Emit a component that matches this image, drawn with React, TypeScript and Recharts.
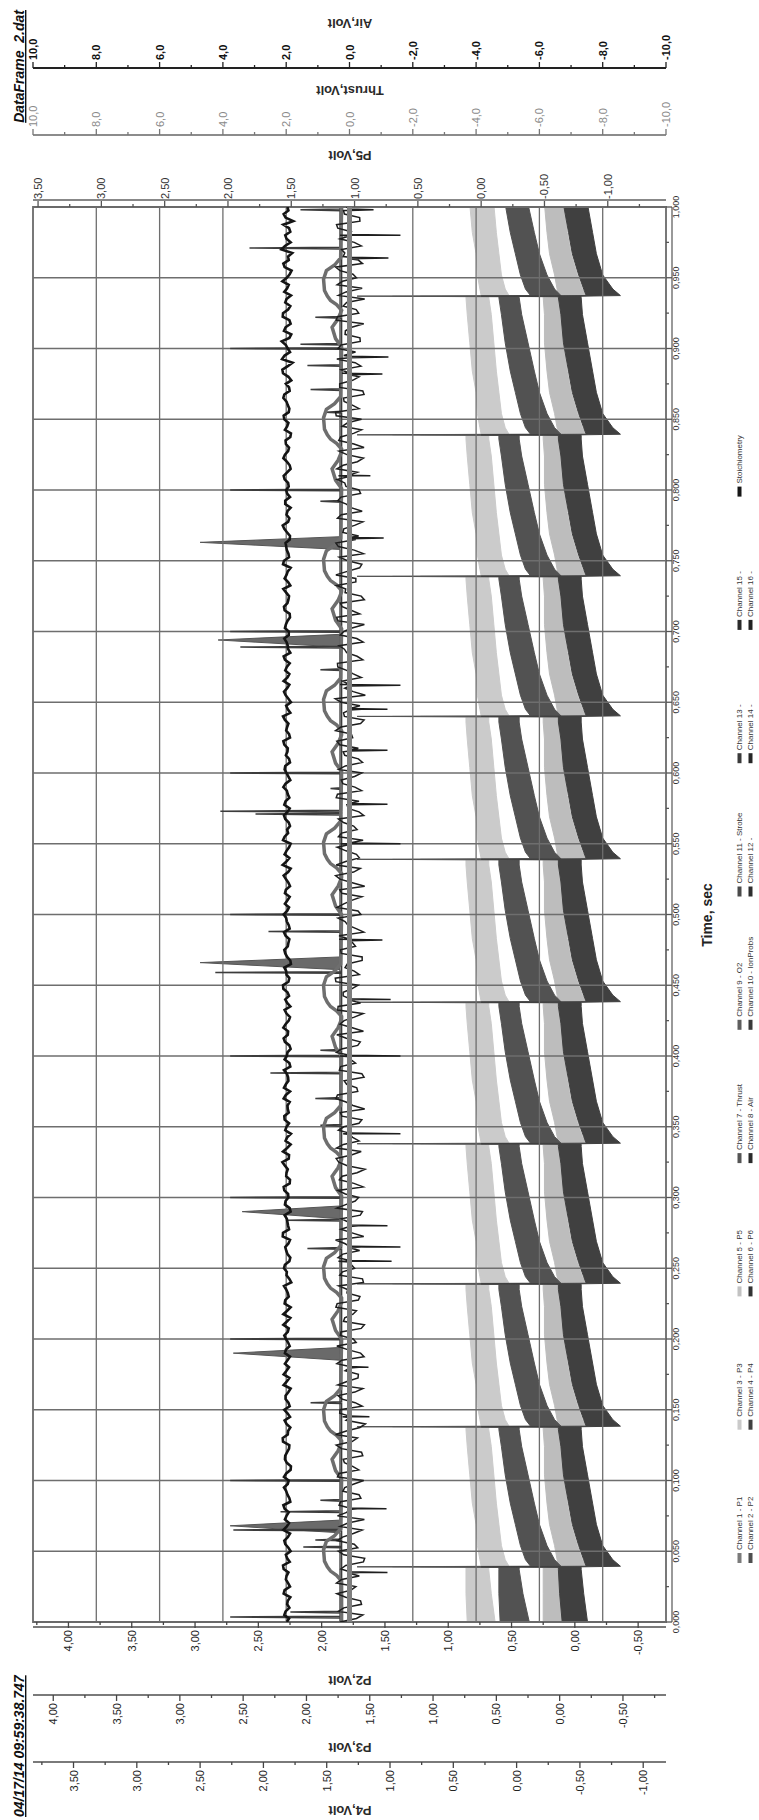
import React from 'react';
import { ComposedChart, Line, Area, XAxis, YAxis, ReferenceLine, ReferenceArea } from 'recharts';

const FONT = '"Liberation Sans", Arial, Helvetica, sans-serif';

// pulse instants (sec) where the pressure bands jump
const PULSES = [0.039, 0.138, 0.239, 0.338, 0.438, 0.539, 0.64, 0.739, 0.839, 0.937];
// sample offsets after each pulse used for the band profiles
const BAND_OFFSETS = [0.0004, 0.005, 0.015, 0.03, 0.045, 0.065, 0.085, 0.097];
const BAND_START_T = [0, 0.02, 0.037];

// Channel 3 - P3 (light band, P3 axis) [low, high]
const P3_START = [[0.51, 0.73], [0.54, 0.74], [0.56, 0.74]];
const P3_PERIOD = [[0.4, 0.62], [0.43, 0.63], [0.46, 0.65], [0.48, 0.66], [0.5, 0.69], [0.52, 0.71], [0.54, 0.73], [0.56, 0.74]];
const P3_SPIKE = 1.32;

// Channel 2 - P2 (dark band, P2 axis)
const P2_START = [[0.36, 0.59], [0.41, 0.6], [0.44, 0.6]];
const P2_PERIOD = [[0.11, 0.35], [0.16, 0.39], [0.22, 0.43], [0.28, 0.47], [0.32, 0.51], [0.37, 0.55], [0.42, 0.58], [0.44, 0.6]];
const P2_SPIKE = 1.72;

// Channel 5 - P5 (light band, P5 axis)
const P5_START = [[-0.64, -0.49], [-0.63, -0.49], [-0.63, -0.49]];
const P5_PERIOD = [[-0.84, -0.61], [-0.8, -0.6], [-0.76, -0.58], [-0.71, -0.54], [-0.68, -0.52], [-0.65, -0.5], [-0.64, -0.5], [-0.63, -0.49]];
const P5_SPIKE = 0.48;

// Channel 4 - P4 (dark band, P4 axis)
const P4_START = [[-0.56, -0.36], [-0.53, -0.34], [-0.51, -0.33]];
const P4_PERIOD = [[-0.82, -0.55], [-0.76, -0.53], [-0.68, -0.49], [-0.63, -0.44], [-0.6, -0.41], [-0.56, -0.37], [-0.52, -0.35], [-0.51, -0.33]];
const P4_SPIKE = 0.28;

// Stoichiometry (Air axis units): samples at k*0.005 and at k*0.005 + 0.0025
const STOICH_A = [
  1.98, 2.06, 1.9, 1.95, 2.08, 1.88, 2.01, 1.93, 2.1, 1.97, 1.86, 2.03, 1.95, 2.09, 1.91, 1.99, 2.05, 1.87, 1.96, 2.07,
  1.92, 2.0, 1.85, 2.04, 1.97, 1.9, 2.11, 1.94, 1.99, 1.88, 2.06, 1.93, 2.02, 1.86, 1.98, 2.08, 1.91, 1.96, 2.04, 1.89,
  2.01, 1.95, 2.09, 1.87, 1.97, 2.05, 1.92, 2.0, 1.84, 1.99, 2.07, 1.9, 1.96, 2.03, 1.88, 2.1, 1.94, 1.98, 1.86, 2.04,
  1.93, 2.06, 1.89, 2.0, 1.95, 2.12, 1.91, 1.97, 2.02, 1.85, 1.99, 2.05, 1.92, 1.96, 2.08, 1.88, 2.01, 1.94, 2.07, 1.9,
  1.98, 1.86, 2.04, 1.95, 2.09, 1.92, 1.99, 1.87, 2.03, 1.96, 2.1, 1.9, 2.0, 1.85, 1.97, 2.06, 1.93, 2.02, 1.89, 1.98,
  2.08, 1.91, 1.96, 2.04, 1.88, 2.01, 1.94, 2.11, 1.9, 1.99, 1.86, 2.05, 1.97, 1.92, 2.07, 1.89, 2.02, 1.95, 2.09, 1.87,
  1.99, 2.03, 1.91, 1.96, 2.06, 1.88, 2.0, 1.93, 2.1, 1.95, 1.85, 2.02, 1.97, 2.08, 1.9, 1.98, 2.04, 1.87, 1.95, 2.06,
  1.92, 2.01, 1.88, 2.05, 1.96, 1.91, 2.09, 1.94, 1.99, 1.86, 2.07, 1.93, 2.0, 1.89, 1.97, 2.11, 1.9, 1.96, 2.03, 1.88,
  2.0, 1.94, 2.08, 1.86, 1.98, 2.04, 1.91, 2.02, 1.85, 1.97, 2.06, 1.92, 1.95, 2.09, 1.89, 2.01, 1.93, 2.12, 1.8, 2.05,
  1.95, 2.14, 1.84, 2.02, 1.9, 2.1, 1.87, 1.99, 2.06, 1.92, 1.98, 1.83, 2.09, 1.94, 2.15, 1.86, 2.03, 1.91, 1.78, 2.08,
  1.96,
];
const STOICH_B = [
  1.91, 2.02, 1.97, 1.87, 2.05, 1.94, 1.99, 2.08, 1.89, 2.01, 1.93, 2.06, 1.88, 1.98, 2.04, 1.92, 2.09, 1.9, 2.0, 1.95,
  2.07, 1.86, 1.98, 2.03, 1.91, 2.1, 1.95, 1.87, 2.05, 1.96, 1.89, 2.02, 1.93, 2.08, 1.9, 1.99, 2.04, 1.88, 2.01, 1.94,
  2.06, 1.92, 1.97, 2.09, 1.86, 2.03, 1.95, 2.07, 1.9, 1.98, 2.04, 1.87, 2.0, 1.93, 2.11, 1.91, 1.96, 2.05, 1.89, 2.02,
  1.94, 2.08, 1.88, 1.99, 2.04, 1.92, 2.1, 1.86, 1.97, 2.03, 1.91, 2.06, 1.95, 1.89, 2.01, 2.07, 1.93, 1.98, 1.87, 2.05,
  1.96, 1.9, 2.08, 1.94, 2.02, 1.88, 2.05, 1.97, 1.91, 2.09, 1.93, 1.99, 2.06, 1.87, 2.03, 1.95, 1.9, 2.07, 1.92, 2.0,
  1.97, 2.04, 1.89, 2.01, 1.93, 2.08, 1.86, 1.99, 2.05, 1.91, 2.1, 1.94, 1.88, 2.03, 1.96, 2.06, 1.9, 1.98, 2.02, 1.93,
  2.05, 1.88, 2.01, 1.95, 2.09, 1.91, 1.97, 2.04, 1.87, 2.0, 1.93, 2.07, 1.9, 1.96, 2.03, 1.89, 2.08, 1.94, 1.99, 1.92,
  2.04, 1.96, 1.89, 2.07, 1.93, 2.0, 1.87, 2.05, 1.95, 2.1, 1.91, 1.98, 2.02, 1.88, 2.06, 1.94, 1.99, 1.86, 2.03, 1.97,
  1.92, 2.05, 1.97, 1.89, 2.09, 1.94, 2.01, 1.87, 2.04, 1.93, 2.08, 1.9, 1.99, 2.06, 1.91, 1.84, 2.1, 1.95, 2.13, 1.88,
  2.01, 1.9, 2.07, 1.86, 2.11, 1.94, 2.03, 1.85, 1.97, 2.12, 1.89, 2.05, 1.92, 1.81, 2.04, 1.99, 1.87, 2.09, 2.02, 1.93,
];

// Channel 8 - Air noise (same two sample grids) and its sharp spikes
const AIR_A = [
  0.3, -0.42, 0.18, -0.35, 0.4, -0.2, 0.25, -0.32, 0.12, -0.48, 0.35, -0.15, 0.22, -0.4, 0.05, 0.38, -0.25, 0.28, -0.3, 0.15,
  -0.45, 0.33, -0.1, 0.2, -0.38, 0.42, -0.25, 0.1, -0.5, 0.22, 0.3, -0.18, 0.36, -0.42, 0.08, -0.28, -0.3, 0.24, -0.35, 0.4,
  -0.12, 0.27, -0.47, 0.15, -0.22, 0.39, -0.33, 0.06, -0.44, 0.31, -0.16, 0.35, 0.21, -0.37, 0.44, -0.08, -0.28, 0.26, -0.41, 0.12,
  -0.29, 0.37, -0.14, 0.23, -0.49, 0.34, -0.06, 0.41, -0.3, 0.2, 0.18, -0.39, 0.29, -0.11, 0.43, -0.26, 0.09, -0.46, 0.32, -0.19,
  0.3, 0.25, -0.34, 0.4, -0.09, 0.17, -0.43, 0.36, -0.33, 0.2, -0.27, 0.45, -0.15, 0.07, -0.4, 0.28, -0.1, 0.33, -0.21, 0.14,
  -0.36, 0.39, -0.07, 0.24, -0.48, 0.3, -0.13, 0.42, -0.31, 0.11, 0.28, 0.35, -0.24, 0.19, -0.45, 0.04, -0.3, 0.38, -0.17, 0.26,
  -0.39, 0.13, -0.28, 0.2, 0.31, -0.1, 0.44, -0.35, 0.16, -0.38, 0.27, -0.5, 0.15, 0.22, -0.12, 0.37, -0.42, 0.09, 0.33, -0.23,
  0.18, -0.47, 0.41, -0.05, 0.29, -0.37, 0.12, -0.2, 0.43, -0.32, 0.06, -0.44, 0.35, -0.2, 0.21, -0.16, 0.38, -0.4, 0.1, 0.27,
  -0.3, 0.15, 0.35, 0.4, -0.25, 0.08, -0.46, 0.34, -0.13, 0.23, -0.38, 0.44, -0.09, 0.19, -0.42, 0.31, -0.3, 0.26, -0.18, 0.18,
  0.36, -0.34, 0.14, -0.07, 0.42, -0.29, 0.2, -0.48, 0.11, 0.39, -0.22, 0.3, -0.41, 0.2, 0.25, -0.15, 0.3, 0.37, -0.33, 0.16,
  0.1,
];
const AIR_B = [
  -0.22, 0.35, -0.38, 0.12, -0.05, 0.41, -0.31, 0.27, -0.44, 0.18, -0.26, 0.39, -0.12, 0.3, -0.47, 0.09, 0.33, -0.36, 0.21, -0.14,
  0.38, -0.29, 0.16, -0.42, 0.25, -0.08, 0.44, -0.33, 0.11, 0.31, -0.4, 0.23, -0.17, 0.37, -0.27, 0.14, 0.4, -0.46, 0.06, -0.21,
  0.29, -0.37, 0.19, -0.11, 0.43, -0.28, 0.08, 0.34, -0.41, 0.22, -0.06, 0.36, -0.32, 0.15, -0.45, 0.27, 0.02, -0.34, 0.4, -0.18,
  0.13, -0.43, 0.32, -0.24, 0.07, 0.42, -0.37, 0.19, -0.1, 0.35, -0.3, 0.24, -0.48, 0.11, 0.38, -0.23, 0.17, -0.39, 0.28, -0.04,
  0.41, -0.26, 0.1, -0.44, 0.3, -0.15, 0.37, -0.35, 0.2, -0.07, 0.43, -0.31, 0.14, -0.4, 0.26, -0.19, 0.33, -0.45, 0.05, 0.36,
  -0.27, 0.18, -0.39, 0.31, -0.09, 0.44, -0.34, 0.12, -0.22, 0.39, -0.43, 0.25, -0.13, 0.35, -0.3, 0.08, 0.42, -0.38, 0.21, -0.16,
  0.34, -0.41, 0.15, -0.28, 0.4, -0.06, 0.27, -0.46, 0.19, -0.33, 0.45, -0.12, 0.3, -0.37, 0.09, 0.38, -0.24, 0.16, -0.43, 0.29,
  -0.08, 0.36, -0.32, 0.23, -0.47, 0.14, 0.41, -0.2, 0.07, -0.39, 0.32, -0.15, 0.43, -0.29, 0.18, -0.42, 0.26, -0.05, 0.37, -0.35,
  0.11, 0.39, -0.25, 0.2, -0.44, 0.33, -0.14, 0.28, -0.38, 0.06, 0.42, -0.3, 0.17, -0.46, 0.31, -0.1, 0.24, -0.36, 0.4, -0.19,
  0.27, -0.33, 0.13, -0.45, 0.38, -0.21, 0.09, 0.35, -0.4, 0.22, -0.11, 0.44, -0.28, 0.15, -0.37, 0.3, -0.06, 0.41, -0.32, 0.19,
];
const AIR_SPIKE_T = [0.035, 0.08, 0.145, 0.18, 0.255, 0.265, 0.28, 0.345, 0.4, 0.44, 0.482, 0.55, 0.578, 0.616, 0.645, 0.662, 0.766, 0.81, 0.882, 0.894, 0.964, 0.98, 0.998];
const AIR_SPIKE_V = [-1.2, -1.17, -0.63, -0.6, -1.33, -1.61, -1.2, -1.61, -1.61, -1.3, -1.04, -1.61, -1.2, -1.2, -1.2, -1.61, -1.08, -0.66, -1.04, -1.23, -1.23, -1.61, -0.76];

// Channel 7 - Thrust
const THRUST_T = [0, 1];
const THRUST_V = [0, 0];

// Channel 1 - P1: bump around every pulse (Air axis units)
const P1_BASE = 0.25;
const P1_BUMP_DT = [-0.01, -0.006, -0.003, 0, 0.004, 0.012, 0.018, 0.022, 0.027, 0.062, 0.068, 0.076, 0.082, 0.088];
const P1_BUMP_V = [0.25, 0.41, 0.6, 0.7, 0.79, 0.82, 0.73, 0.47, 0.28, 0.25, 0.44, 0.55, 0.36, 0.25];

// Channel 11 - Strobe spikes
const STROBE_BASE = 0.25;
const STROBE_T = [0.0035, 0.007, 0.053, 0.058, 0.065, 0.078, 0.086, 0.1, 0.155, 0.2, 0.264, 0.284, 0.3, 0.351, 0.37, 0.388, 0.4, 0.404,
  0.459, 0.488, 0.5, 0.571, 0.573, 0.589, 0.6, 0.673, 0.689, 0.7, 0.792, 0.8, 0.855, 0.871, 0.888, 0.9, 0.903, 0.922, 0.971, 0.998];
const STROBE_V = [3.77, 1.87, 1.46, 1.08, 3.67, 2.18, 0.92, 3.77, 1.23, 3.77, 1.33, 1.96, 3.77, 0.92, 1.08, 2.5, 3.77, 0.92,
  4.24, 2.56, 3.77, 2.97, 4.08, 0.6, 3.77, 0.92, 3.45, 3.77, 0.92, 3.77, 0.76, 1.23, 1.33, 3.77, 1.55, 1.08, 3.16, 1.55];

// Channel 10 - IonProbs wedges
const ION_BASE = 0.3;
const ION_T = [0.068, 0.19, 0.29, 0.466, 0.694, 0.763];
const ION_V = [3.77, 3.67, 3.39, 4.72, 4.15, 4.72];

// axes
const TIME_MAJOR = [0, 0.05, 0.1, 0.15, 0.2, 0.25, 0.3, 0.35, 0.4, 0.45, 0.5, 0.55, 0.6, 0.65, 0.7, 0.75, 0.8, 0.85, 0.9, 0.95, 1];
const AIR_MAJOR = [10, 8, 6, 4, 2, 0, -2, -4, -6, -8, -10];
const P2_MAJOR = [4, 3.5, 3, 2.5, 2, 1.5, 1, 0.5, 0, -0.5];
const P3_MAJOR = [4, 3.5, 3, 2.5, 2, 1.5, 1, 0.5, 0, -0.5];
const P4_MAJOR = [3.5, 3, 2.5, 2, 1.5, 1, 0.5, 0, -0.5, -1];
const P5_MAJOR = [3.5, 3, 2.5, 2, 1.5, 1, 0.5, 0, -0.5, -1];
const AIR_DOMAIN: [number, number] = [-10, 10];
const P2_DOMAIN: [number, number] = [-0.72, 4.28];
const P3_DOMAIN: [number, number] = [-0.84, 4.16];
const P4_DOMAIN: [number, number] = [-1.18, 3.82];
const P5_DOMAIN: [number, number] = [-1.46, 3.54];
const GRID_T = [0.05, 0.1, 0.15, 0.2, 0.25, 0.3, 0.35, 0.4, 0.45, 0.5, 0.55, 0.6, 0.65, 0.7, 0.75, 0.8, 0.85, 0.9, 0.95];
const GRID_AIR = [8, 6, 4, 2, 0, -2, -4, -6, -8];

const LEGEND = [
  ['Channel 1 - P1', '#7b7b7b'], ['Channel 2 - P2', '#4f4f4f'],
  ['Channel 3 - P3', '#cacaca'], ['Channel 4 - P4', '#414141'],
  ['Channel 5 - P5', '#c2c2c2'], ['Channel 6 - P6', '#333333'],
  ['Channel 7 - Thrust', '#555555'], ['Channel 8 - Air', '#2b2b2b'],
  ['Channel 9 - O2', '#5e5e5e'], ['Channel 10 - IonProbs', '#3a3a3a'],
  ['Channel 11 - Strobe', '#4a4a4a'], ['Channel 12 -', '#2e2e2e'],
  ['Channel 13 -', '#3a3a3a'], ['Channel 14 -', '#262626'],
  ['Channel 15 -', '#2a2a2a'], ['Channel 16 -', '#222222'],
  ['Stoichiometry', '#161616'],
];

function buildBand(start: number[][], period: number[][], spike: number) {
  const rows = BAND_START_T.map((t, i) => ({ t, r: start[i] }));
  PULSES.forEach((p) => {
    const prev = rows[rows.length - 1].r;
    rows.push({ t: +(p - 0.0004).toFixed(4), r: prev });
    rows.push({ t: p, r: [prev[0], spike] });
    BAND_OFFSETS.forEach((o, i) => rows.push({ t: +(p + o).toFixed(4), r: period[i] }));
  });
  return rows;
}

// merge the two sample grids (k*0.005 and k*0.005 + 0.0025) plus optional spikes
function buildSampled(a: number[], b: number[], spikeT: number[] = [], spikeV: number[] = [], spikeBase = 0) {
  const rows: { t: number; v: number }[] = [];
  a.forEach((v, i) => rows.push({ t: +(i * 0.005).toFixed(4), v }));
  b.forEach((v, i) => rows.push({ t: +(i * 0.005 + 0.0025).toFixed(4), v }));
  spikeT.forEach((t, i) => {
    rows.push({ t: t - 0.0005, v: spikeBase }, { t, v: spikeV[i] }, { t: t + 0.0005, v: spikeBase });
  });
  return rows.sort((x, y) => x.t - y.t);
}

function buildP1() {
  const rows = [{ t: 0, v: P1_BASE }];
  PULSES.forEach((p) => P1_BUMP_DT.forEach((d, i) => rows.push({ t: +(p + d).toFixed(4), v: P1_BUMP_V[i] })));
  return rows;
}

function buildSpikes(ts: number[], vs: number[], base: number) {
  const rows = [{ t: 0, v: base }];
  ts.forEach((t, i) => {
    rows.push({ t: t - 0.0006, v: base }, { t, v: vs[i] }, { t: t + 0.0006, v: base });
  });
  rows.push({ t: 1, v: base });
  return rows;
}

function buildWedges(ts: number[], vs: number[], base: number) {
  const rows = [{ t: 0, r: [base, base] }];
  ts.forEach((t, i) => {
    rows.push({ t: t - 0.005, r: [base, base] }, { t, r: [base, vs[i]] }, { t: t + 0.004, r: [base, base] });
  });
  rows.push({ t: 1, r: [base, base] });
  return rows;
}

function withMinor(major: number[], half: number, dom: [number, number]) {
  const set = new Set<number>();
  major.forEach((m) => [m - half, m, m + half].forEach((v) => set.add(+v.toFixed(4))));
  return [...set].filter((v) => v >= dom[0] - 1e-9 && v <= dom[1] + 1e-9).sort((a, b) => a - b);
}

const fmt = (v: number, d: number) => v.toFixed(d).replace('.', ',').replace(/^-(0,0+)$/, '$1');

type TickStyle = { side: 'left' | 'right' | 'bottom'; major: number[]; digits: number; text: string; line: string; size: number; bold?: boolean };

function renderTick(props: any, s: TickStyle) {
  const { x, y, payload } = props;
  const v = Number(payload.value);
  const isMajor = s.major.some((m) => Math.abs(m - v) < 1e-6);
  const len = isMajor ? 6 : 3;
  const label = isMajor ? fmt(v, s.digits) : null;
  const tp = { fill: s.text, fontSize: s.size, fontWeight: s.bold ? 700 : 400, fontFamily: FONT };
  if (s.side === 'left') {
    return (
      <g>
        <line x1={x} x2={x - len} y1={y} y2={y} stroke={s.line} strokeWidth={1.3} />
        {label && <text x={x - 8} y={y} textAnchor="end" dominantBaseline="central" {...tp}>{label}</text>}
      </g>
    );
  }
  if (s.side === 'right') {
    return (
      <g>
        <line x1={x} x2={x + len} y1={y} y2={y} stroke={s.line} strokeWidth={1.3} />
        {label && <text x={x + 8} y={y} textAnchor="start" dominantBaseline="central" {...tp}>{label}</text>}
      </g>
    );
  }
  return (
    <g>
      <line x1={x} x2={x} y1={y} y2={y + len} stroke={s.line} strokeWidth={1.3} />
      {label && <text x={x} y={y + 7} textAnchor="middle" dominantBaseline="hanging" {...tp}>{label}</text>}
    </g>
  );
}

const CSS = `
.ax-p2 { transform: translateX(-5px); }
.ax-p5 { transform: translateX(7px); }
.ax-time { transform: translateY(6px); }
`;

const axisTitle = (text: string, x: number) => (
  <text key={text} x={x} y={350} transform={`rotate(-90 ${x} 350)`} textAnchor="middle" dominantBaseline="central"
    fontFamily={FONT} fontSize={13} fontWeight={700} fill="#2a2a2a">{text}</text>
);

export default function App() {
  const p3 = buildBand(P3_START, P3_PERIOD, P3_SPIKE);
  const p2 = buildBand(P2_START, P2_PERIOD, P2_SPIKE);
  const p5 = buildBand(P5_START, P5_PERIOD, P5_SPIKE);
  const p4 = buildBand(P4_START, P4_PERIOD, P4_SPIKE);
  const stoich = buildSampled(STOICH_A, STOICH_B);
  const air = buildSampled(AIR_A, AIR_B, AIR_SPIKE_T, AIR_SPIKE_V, 0);
  const thrust = THRUST_T.map((t, i) => ({ t, v: THRUST_V[i] }));
  const p1 = buildP1();
  const strobe = buildSpikes(STROBE_T, STROBE_V, STROBE_BASE);
  const ion = buildWedges(ION_T, ION_V, ION_BASE);

  const yCommon = { type: 'number' as const, allowDataOverflow: true, interval: 0 as const, tickLine: false, tickSize: 0, tickMargin: 0 };

  return (
    <div style={{ position: 'absolute', left: 0, top: 0, width: 759, height: 1820, overflow: 'hidden', background: '#fff' }}>
      <style>{CSS}</style>
      <div style={{ position: 'absolute', left: 0, top: 0, width: 1820, height: 759, transformOrigin: '0 0', transform: 'translateY(1820px) rotate(-90deg)', fontFamily: FONT }}>
        <ComposedChart width={1820} height={759} margin={{ top: 33, right: 0, bottom: 0, left: 0 }}>
          <XAxis dataKey="t" type="number" domain={[0, 1]} allowDataOverflow ticks={withMinor(TIME_MAJOR, 0.025, [0, 1])}
            interval={0} height={93} tickLine={false} tickSize={0} tickMargin={0} className="ax-time"
            axisLine={{ stroke: '#777', strokeWidth: 1.5 }}
            tick={(p: any) => renderTick(p, { side: 'bottom', major: TIME_MAJOR, digits: 3, text: '#333', line: '#555', size: 9 })} />
          {/* axis ids are ordered so the first of each side sits next to the plot */}
          <YAxis yAxisId="l1_p2" orientation="left" width={73} domain={P2_DOMAIN} ticks={withMinor(P2_MAJOR, 0.25, P2_DOMAIN)} {...yCommon}
            className="ax-p2" axisLine={{ stroke: '#7a7a7a', strokeWidth: 1.8 }}
            tick={(p: any) => renderTick(p, { side: 'left', major: P2_MAJOR, digits: 2, text: '#222', line: '#444', size: 11 })} />
          <YAxis yAxisId="l2_p3" orientation="left" width={67} domain={P3_DOMAIN} ticks={withMinor(P3_MAJOR, 0.25, P3_DOMAIN)} {...yCommon}
            axisLine={{ stroke: '#7a7a7a', strokeWidth: 1.8 }}
            tick={(p: any) => renderTick(p, { side: 'left', major: P3_MAJOR, digits: 2, text: '#222', line: '#444', size: 11 })} />
          <YAxis yAxisId="l3_p4" orientation="left" width={58} domain={P4_DOMAIN} ticks={withMinor(P4_MAJOR, 0.25, P4_DOMAIN)} {...yCommon}
            axisLine={{ stroke: '#7a7a7a', strokeWidth: 1.8 }}
            tick={(p: any) => renderTick(p, { side: 'left', major: P4_MAJOR, digits: 2, text: '#222', line: '#444', size: 11 })} />
          <YAxis yAxisId="r1_p5" orientation="right" width={72} domain={P5_DOMAIN} ticks={withMinor(P5_MAJOR, 0.25, P5_DOMAIN)} {...yCommon}
            className="ax-p5" axisLine={{ stroke: '#888', strokeWidth: 1.8 }}
            tick={(p: any) => renderTick(p, { side: 'right', major: P5_MAJOR, digits: 2, text: '#333', line: '#555', size: 11 })} />
          <YAxis yAxisId="r2_thrust" orientation="right" width={67} domain={AIR_DOMAIN} ticks={withMinor(AIR_MAJOR, 1, AIR_DOMAIN)} {...yCommon}
            axisLine={{ stroke: '#666', strokeWidth: 1.6 }}
            tick={(p: any) => renderTick(p, { side: 'right', major: AIR_MAJOR, digits: 1, text: '#8a8a8a', line: '#777', size: 11 })} />
          <YAxis yAxisId="r3_air" orientation="right" width={68} domain={AIR_DOMAIN} ticks={withMinor(AIR_MAJOR, 1, AIR_DOMAIN)} {...yCommon}
            axisLine={{ stroke: '#222', strokeWidth: 2 }}
            tick={(p: any) => renderTick(p, { side: 'right', major: AIR_MAJOR, digits: 1, text: '#111', line: '#222', size: 11, bold: true })} />

          <Area data={p3} dataKey="r" yAxisId="l2_p3" type="linear" fill="#cbcbcb" stroke="#cbcbcb" strokeWidth={1} fillOpacity={1} isAnimationActive={false} />
          <Area data={p5} dataKey="r" yAxisId="r1_p5" type="linear" fill="#bdbdbd" stroke="#bdbdbd" strokeWidth={1} fillOpacity={1} isAnimationActive={false} />
          <Area data={p2} dataKey="r" yAxisId="l1_p2" type="linear" fill="#525252" stroke="#525252" strokeWidth={1} fillOpacity={1} isAnimationActive={false} />
          <Area data={p4} dataKey="r" yAxisId="l3_p4" type="linear" fill="#404040" stroke="#404040" strokeWidth={1} fillOpacity={1} isAnimationActive={false} />

          {GRID_T.map((t) => (
            <ReferenceLine key={`gt${t}`} x={t} yAxisId="r3_air" stroke="#6e6e6e" strokeWidth={1.3} ifOverflow="hidden" />
          ))}
          {GRID_AIR.map((v) => (
            <ReferenceLine key={`ga${v}`} y={v} yAxisId="r3_air" stroke="#6e6e6e" strokeWidth={1.3} ifOverflow="hidden" />
          ))}
          <ReferenceArea x1={0} x2={1} y1={-10} y2={10} yAxisId="r3_air" fill="none" stroke="#6a6a6a" strokeWidth={1.8} ifOverflow="visible" />

          <Area data={ion} dataKey="r" yAxisId="r3_air" type="linear" fill="#6a6a6a" stroke="#555" strokeWidth={1} fillOpacity={1} isAnimationActive={false} />
          <Line data={strobe} dataKey="v" yAxisId="r3_air" type="linear" stroke="#3c3c3c" strokeWidth={1.5} dot={false} activeDot={false} isAnimationActive={false} />
          <Line data={p1} dataKey="v" yAxisId="r3_air" type="linear" stroke="#6e6e6e" strokeWidth={3.5} dot={false} activeDot={false} isAnimationActive={false} />
          <Line data={air} dataKey="v" yAxisId="r3_air" type="linear" stroke="#1e1e1e" strokeWidth={1.5} dot={false} activeDot={false} isAnimationActive={false} />
          <Line data={thrust} dataKey="v" yAxisId="r2_thrust" type="linear" stroke="#7e7e7e" strokeWidth={5} dot={false} activeDot={false} isAnimationActive={false} />
          <Line data={stoich} dataKey="v" yAxisId="r3_air" type="linear" stroke="#141414" strokeWidth={2.6} dot={false} activeDot={false} isAnimationActive={false} />
        </ComposedChart>

        <svg width={1820} height={759} style={{ position: 'absolute', left: 0, top: 0, pointerEvents: 'none' }}>
          <text x={3} y={24} fontFamily={FONT} fontSize={14} fontWeight={700} fontStyle="italic" textDecoration="underline" fill="#111">04/17/14 09:59:38.747</text>
          <text x={1810} y={24} textAnchor="end" fontFamily={FONT} fontSize={14} fontWeight={700} fontStyle="italic" textDecoration="underline" fill="#111">DataFrame_2.dat</text>
          {axisTitle('P2,Volt', 140)}
          {axisTitle('P3,Volt', 73)}
          {axisTitle('P4,Volt', 10)}
          {axisTitle('P5,Volt', 1665)}
          {axisTitle('Thrust,Volt', 1730)}
          {axisTitle('Air,Volt', 1797)}
          <text x={905} y={707} textAnchor="middle" dominantBaseline="central" fontFamily={FONT} fontSize={14} fontWeight={700} fill="#222">Time, sec</text>
          {LEGEND.map(([name, color], i) => {
            const col = Math.floor(i / 2);
            const row = i % 2;
            const x = 257 + col * 133.3;
            const y = row === 0 ? 739.5 : 750.5;
            return (
              <g key={name}>
                <rect x={x} y={y - 2} width={10} height={4} fill={color} />
                <text x={x + 13} y={y} dominantBaseline="central" fontFamily={FONT} fontSize={8} fill="#333">{name}</text>
              </g>
            );
          })}
        </svg>
      </div>
    </div>
  );
}
